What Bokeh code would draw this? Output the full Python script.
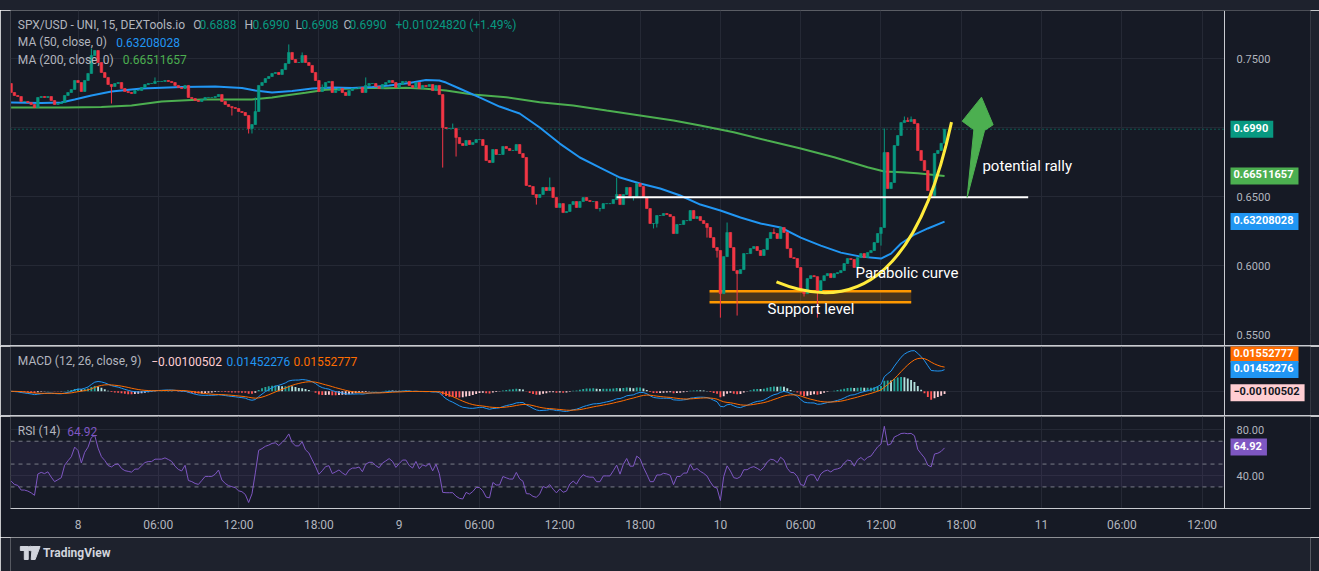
import numpy as np
from bokeh.plotting import figure
from bokeh.layouts import column
from bokeh.models import (ColumnDataSource, FixedTicker, Label, Range1d, Div, Span)
from bokeh.core.properties import value
from bokeh.embed import file_html
from bokeh.resources import INLINE

# ---------------------------------------------------------------- data
# time is counted in hours from day "8" 00:00; one candle = 15 minutes
FIRST_CANDLE_HOUR = -5.0
CANDLE_HOURS = 0.25
FIRST_OPEN = 0.7321

closes = [
    0.7256, 0.7234, 0.7227, 0.7191, 0.7191, 0.7183, 0.7169, 0.7147, 0.7220, 0.7227,
    0.7220, 0.7227, 0.7198, 0.7169, 0.7176, 0.7183, 0.7234, 0.7256, 0.7278, 0.7343,
    0.7328, 0.7263, 0.7343, 0.7394, 0.7524, 0.7560, 0.7473, 0.7401, 0.7365, 0.7314,
    0.7299, 0.7321, 0.7328, 0.7285, 0.7263, 0.7256, 0.7249, 0.7270, 0.7270, 0.7292,
    0.7314, 0.7321, 0.7321, 0.7336, 0.7336, 0.7336, 0.7343, 0.7336, 0.7328, 0.7307,
    0.7292, 0.7285, 0.7307, 0.7220, 0.7212, 0.7198, 0.7191, 0.7205, 0.7220, 0.7220,
    0.7220, 0.7227, 0.7241, 0.7191, 0.7169, 0.7154, 0.7147, 0.7140, 0.7118, 0.7111,
    0.7089, 0.6995, 0.7024, 0.7118, 0.7307, 0.7328, 0.7357, 0.7372, 0.7394, 0.7401,
    0.7386, 0.7422, 0.7466, 0.7546, 0.7495, 0.7473, 0.7473, 0.7524, 0.7473, 0.7452,
    0.7401, 0.7343, 0.7263, 0.7292, 0.7328, 0.7336, 0.7256, 0.7270, 0.7285, 0.7256,
    0.7234, 0.7270, 0.7285, 0.7285, 0.7292, 0.7256, 0.7307, 0.7321, 0.7321, 0.7299,
    0.7285, 0.7314, 0.7328, 0.7343, 0.7328, 0.7292, 0.7314, 0.7336, 0.7336, 0.7307,
    0.7292, 0.7328, 0.7285, 0.7307, 0.7299, 0.7314, 0.7270, 0.7307, 0.7241, 0.7002,
    0.6995, 0.6995, 0.6995, 0.6930, 0.6886, 0.6872, 0.6908, 0.6879, 0.6893, 0.6915,
    0.6915, 0.6872, 0.6763, 0.6749, 0.6843, 0.6807, 0.6807, 0.6865, 0.6850, 0.6836,
    0.6836, 0.6879, 0.6814, 0.6785, 0.6582, 0.6575, 0.6517, 0.6495, 0.6517, 0.6568,
    0.6546, 0.6568, 0.6495, 0.6423, 0.6451, 0.6386, 0.6394, 0.6444, 0.6466, 0.6423,
    0.6466, 0.6495, 0.6473, 0.6466, 0.6466, 0.6415, 0.6415, 0.6451, 0.6451, 0.6451,
    0.6481, 0.6517, 0.6444, 0.6517, 0.6568, 0.6502, 0.6502, 0.6597, 0.6575, 0.6495,
    0.6415, 0.6307, 0.6307, 0.6365, 0.6365, 0.6379, 0.6372, 0.6357, 0.6234, 0.6300,
    0.6300, 0.6328, 0.6328, 0.6401, 0.6343, 0.6357, 0.6328, 0.6307, 0.6278, 0.6205,
    0.6133, 0.6111, 0.5799, 0.6067, 0.6242, 0.6133, 0.5966, 0.5944, 0.5973, 0.6089,
    0.6089, 0.6125, 0.6140, 0.6111, 0.6075, 0.6118, 0.6198, 0.6242, 0.6234, 0.6198,
    0.6278, 0.6242, 0.6125, 0.6060, 0.6053, 0.5988, 0.5821, 0.5799, 0.5908, 0.5929,
    0.5922, 0.5806, 0.5893, 0.5929, 0.5944, 0.5915, 0.5944, 0.5951, 0.5966, 0.6017,
    0.6053, 0.6046, 0.5988, 0.6060, 0.6089, 0.6060, 0.6096, 0.6111, 0.6169, 0.6234,
    0.6278, 0.6821, 0.6560, 0.6604, 0.6872, 0.6944, 0.7038, 0.7053, 0.7046, 0.7060,
    0.7031, 0.6836, 0.6763, 0.6691, 0.6546, 0.6510, 0.6814, 0.6836, 0.6888, 0.6990,
]
# long wicks (candle index -> price)
wick_high = {24: 0.7575, 43: 0.7365, 73: 0.7220, 83: 0.7604, 87: 0.7546, 93: 0.7314,
             106: 0.7365, 132: 0.7031, 161: 0.6640, 181: 0.6640, 214: 0.6314,
             228: 0.6271, 261: 0.6995, 267: 0.7082, 268: 0.7075, 269: 0.7082}
wick_low = {30: 0.7176, 66: 0.7089, 71: 0.6959, 72: 0.6959, 129: 0.6712, 133: 0.6792,
            157: 0.6444, 176: 0.6394, 186: 0.6473, 192: 0.6271, 193: 0.6278,
            208: 0.6205, 211: 0.6060, 212: 0.5625, 217: 0.5640, 237: 0.5778,
            241: 0.5625, 260: 0.6147, 275: 0.6495, 279: 0.6908}

ma50_hours = [-5.0, -2.75, -1.25, -0.25, 1.0, 2.5, 4.75, 7.75, 10.25, 12.25, 13.25,
              14.5, 16.0, 17.5, 19.0, 20.5, 22.0, 23.25, 24.75, 26.0, 27.0, 27.5,
              28.5, 30.0, 31.5, 33.0, 34.5, 36.0, 37.5, 39.0, 40.5, 42.0, 43.5, 45.0,
              46.5, 48.0, 49.5, 51.0, 52.5, 54.0, 55.5, 57.0, 58.5, 60.0, 60.75, 61.5,
              62.5, 63.5, 64.75]
ma50_values = [0.7183, 0.7180, 0.7183, 0.7205, 0.7234, 0.7263, 0.7285, 0.7296, 0.7299,
               0.7288, 0.7270, 0.7256, 0.7267, 0.7285, 0.7292, 0.7288, 0.7296, 0.7307,
               0.7325, 0.7346, 0.7343, 0.7328, 0.7285, 0.7220, 0.7154, 0.7104, 0.7002,
               0.6886, 0.6785, 0.6712, 0.6640, 0.6597, 0.6560, 0.6510, 0.6444, 0.6401,
               0.6350, 0.6307, 0.6278, 0.6205, 0.6147, 0.6096, 0.6067, 0.6053, 0.6089,
               0.6162, 0.6227, 0.6271, 0.6321]
ma200_hours = [-5.0, -1.0, 1.75, 4.0, 6.25, 9.25, 13.0, 14.5, 15.5, 17.0, 18.5, 20.0,
               21.5, 23.0, 24.5, 26.0, 27.5, 29.5, 32.0, 34.5, 37.0, 39.5, 42.0, 44.5,
               46.5, 49.0, 51.5, 54.0, 56.5, 59.0, 60.25, 61.5, 62.75, 64.0, 64.75]
ma200_values = [0.7147, 0.7147, 0.7151, 0.7162, 0.7191, 0.7205, 0.7205, 0.7220, 0.7234,
                0.7254, 0.7275, 0.7283, 0.7290, 0.7287, 0.7290, 0.7283, 0.7270, 0.7241,
                0.7222, 0.7186, 0.7162, 0.7125, 0.7089, 0.7053, 0.7017, 0.6968, 0.6908,
                0.6850, 0.6787, 0.6715, 0.6683, 0.6678, 0.6671, 0.6659, 0.6651]

x_tick_hours = [0, 6, 12, 18, 24, 30, 36, 42, 48, 54, 60, 66, 72, 78, 84]
x_tick_labels = ["8", "06:00", "12:00", "18:00", "9", "06:00", "12:00", "18:00",
                 "10", "06:00", "12:00", "18:00", "11", "06:00", "12:00"]
price_ticks = [0.55, 0.6, 0.65, 0.7, 0.75]
price_tick_labels = ["0.5500", "0.6000", "0.6500", "", "0.7500"]
rsi_ticks = [40, 80]
rsi_tick_labels = ["40.00", "80.00"]
rsi_levels = [30, 50, 70]

last_price = 0.6990
ma50_last = 0.63208028
ma200_last = 0.66511657
macd_last, signal_last, hist_last = 0.01452276, 0.01552777, -0.00100502
rsi_last = 64.92

# drawings on the chart (hours, price)
level_line = dict(x0=40.24, x1=71.0, y=0.6497)
support_box = dict(left=47.19, right=62.26, bottom=0.5736, top=0.5816)
curve = dict(x0=52.19, y0=0.5884, cx=61.83, cy=0.5495, x1=65.27, y1=0.7041)
arrow_hours = [66.44, 67.74, 68.38, 67.51, 66.07, 66.94]
arrow_prices = [0.6497, 0.6981, 0.7022, 0.7222, 0.7048, 0.6986]
note_texts = ["Support level", "Parabolic curve", "potential rally"]
note_hours = [51.52, 58.10, 67.58]
note_prices = [0.5690, 0.5946, 0.6727]

# ---------------------------------------------------------------- style
BG = "#161a25"
OUTER = "#1e222d"
FRAME = "#2a2e39"
GRID = "#252935"
SEP = "#c9cbd1"
TXT = "#b2b5be"
UP = "#089981"
DOWN = "#f23645"
BLUE = "#2196f3"
GREEN = "#4caf50"
ORANGE = "#ff6d00"
PURPLE = "#7e57c2"
FONT = "Roboto"
W = 1319
X_START = -5.044     # left edge of the plotting area
X_AXIS = 85.668      # where the price scale begins
X_END = 92.094       # right edge (price-scale column included)

# ---------------------------------------------------------------- derived
n = len(closes)
hours = [FIRST_CANDLE_HOUR + i * CANDLE_HOURS for i in range(n)]
opens = [FIRST_OPEN] + closes[:-1]
highs = [wick_high.get(i, max(o, c)) for i, (o, c) in enumerate(zip(opens, closes))]
lows = [wick_low.get(i, min(o, c)) for i, (o, c) in enumerate(zip(opens, closes))]
body_top = [max(o, c) for o, c in zip(opens, closes)]
body_bot = [min(o, c) for o, c in zip(opens, closes)]
ccolor = [UP if c >= o else DOWN for o, c in zip(opens, closes)]
candles = ColumnDataSource(dict(x=hours, hi=highs, lo=lows, top=body_top, bot=body_bot,
                                color=ccolor))


def ema(vals, span):
    a = 2.0 / (span + 1)
    out, e = [], vals[0]
    for v in vals:
        e = a * v + (1 - a) * e
        out.append(e)
    return np.array(out)


c_arr = np.array(closes)
macd = ema(closes, 12) - ema(closes, 26)
signal = ema(list(macd), 9)
hist = macd - signal
hcol = []
for i, h in enumerate(hist):
    prev = hist[i - 1] if i else h
    if h >= 0:
        hcol.append("#26a69a" if h > prev else "#b2dfdb")
    else:
        hcol.append("#ff5252" if h < prev else "#ffcdd2")

chg = np.diff(c_arr)
gain = np.where(chg > 0, chg, 0.0)
loss = np.where(chg < 0, -chg, 0.0)
ag, al = gain[:14].mean(), loss[:14].mean()
rsi = []
for i in range(n):
    if i > 0:
        ag = (ag * 13 + gain[i - 1]) / 14
        al = (al * 13 + loss[i - 1]) / 14
    rsi.append(100.0 if al == 0 else 100 - 100 / (1 + ag / al))


def base_fig(height, y0, y1, ticks, labels, bottom=0, xaxis=False, border=OUTER):
    f = figure(width=W, height=height, x_range=Range1d(X_START, X_END),
               y_range=Range1d(y0, y1), toolbar_location=None, output_backend="svg",
               y_axis_location="right", x_axis_location="below" if xaxis else None,
               min_border_left=10, min_border_right=9, min_border_top=0,
               min_border_bottom=bottom, background_fill_color=BG,
               border_fill_color=border, outline_line_color=None)
    f.xgrid.ticker = FixedTicker(ticks=x_tick_hours)
    f.ygrid.ticker = FixedTicker(ticks=ticks)
    f.grid.grid_line_color = GRID
    f.grid.grid_line_width = 1
    ax = f.yaxis[0]
    ax.ticker = FixedTicker(ticks=ticks)
    ax.major_label_overrides = dict(zip(ticks, labels))
    ax.axis_line_color = None
    ax.major_tick_line_color = None
    ax.minor_tick_line_color = None
    ax.major_label_text_color = TXT
    ax.major_label_text_font = FONT
    ax.major_label_text_font_size = "11px"
    ax.major_label_standoff = -80
    # price-scale column: plain background over the grid, and its border line
    f.quad(left=[X_AXIS], right=[X_END], bottom=[y0], top=[y1], fill_color=BG,
           line_color=None)
    f.add_layout(Span(location=X_AXIS, dimension="height", line_color=SEP,
                      line_width=1))
    f.add_layout(Span(location=X_START, dimension="height", line_color=FRAME,
                      line_width=1))
    f.add_layout(Span(location=X_END, dimension="height", line_color=FRAME,
                      line_width=1))
    return f


def tag(fig, y, text, bg, fg="#ffffff", dy=0):
    fig.add_layout(Label(x=X_AXIS, y=y, text=text, x_offset=6, y_offset=dy,
                         text_align="left", text_baseline="middle", text_color=fg,
                         text_font=FONT, text_font_size="11px", text_font_style="bold",
                         background_fill_color=bg, padding=(3, 5, 3, 6)))


def legend(fig, items, y):
    for x, text, color in items:
        fig.add_layout(Label(x=x, y=y, x_units="screen", y_units="screen", text=text,
                             text_color=color, text_font=FONT, text_font_size="12px",
                             text_baseline="middle", text_align="left"))


# ---------------------------------------------------------------- price pane
p = base_fig(335, 0.54232, 0.78499, price_ticks, price_tick_labels)
p.add_layout(Span(location=0.78499, dimension="width", line_color=FRAME, line_width=1))

p.segment(x0=[X_START], x1=[X_AXIS], y0=[last_price], y1=[last_price], line_color=UP,
          line_dash="1 3", line_width=1)
p.quad(left=[support_box["left"]], right=[support_box["right"]],
       bottom=[support_box["bottom"]], top=[support_box["top"]],
       fill_color="#ff9800", fill_alpha=0.22, line_color=None)
p.segment(x0=[support_box["left"]] * 2, x1=[support_box["right"]] * 2,
          y0=[support_box["bottom"], support_box["top"]],
          y1=[support_box["bottom"], support_box["top"]], line_color="#ff9800",
          line_width=2.5)
p.line(ma200_hours, ma200_values, line_color=GREEN, line_width=2)
p.line(ma50_hours, ma50_values, line_color=BLUE, line_width=2)
p.segment(x0="x", x1="x", y0="lo", y1="hi", color="color", line_width=1, source=candles)
p.vbar(x="x", width=0.19, top="top", bottom="bot", fill_color="color",
       line_color="color", line_width=0.6, source=candles)
p.segment(x0=[level_line["x0"]], x1=[level_line["x1"]], y0=[level_line["y"]],
          y1=[level_line["y"]], line_color="#ffffff", line_width=2)
p.quadratic(x0=[curve["x0"]], y0=[curve["y0"]], cx=[curve["cx"]], cy=[curve["cy"]],
            x1=[curve["x1"]], y1=[curve["y1"]], line_color="#ffeb3b", line_width=3)
p.patch(arrow_hours, arrow_prices, fill_color="#4caf50", line_color="#4caf50")
p.text(x=note_hours, y=note_prices, text=note_texts, text_color="#ffffff",
       text_font=value(FONT), text_font_size="15px", text_baseline="middle",
       text_align="left")

tag(p, last_price, "0.6990", UP)
tag(p, ma200_last, "0.66511657", GREEN)
tag(p, ma50_last, "0.63208028", BLUE)

legend(p, [(7.3, "SPX/USD - UNI, 15, DEXTools.io", TXT), (182.7, "O", TXT),
           (189, "0.6888", UP), (234, "H", TXT), (242, "0.6990", UP), (285, "L", TXT),
           (291, "0.6908", UP), (333, "C", TXT), (339, "0.6990", UP),
           (385, "+0.01024820 (+1.49%)", UP)], 321)
legend(p, [(7.3, "MA (50, close, 0)", TXT), (105.7, "0.63208028", BLUE)], 303.3)
legend(p, [(7.3, "MA (200, close, 0)", TXT), (112.3, "0.66511657", GREEN)], 286)

# ---------------------------------------------------------------- MACD pane
m = base_fig(69, -0.016133, 0.029867, [0.0], [""])
m.vbar(x=hours, width=0.14, top=list(hist), bottom=0, fill_color=hcol, line_color=None)
m.line(hours, list(macd), line_color=BLUE, line_width=1)
m.line(hours, list(signal), line_color=ORANGE, line_width=1)
tag(m, signal_last, "0.01552777", ORANGE, dy=14)
tag(m, macd_last, "0.01452276", BLUE)
tag(m, hist_last, "\u22120.00100502", "#ffcdd2", fg="#131722")
legend(m, [(7.3, "MACD (12, 26, close, 9)", TXT), (140.7, "\u22120.00100502", "#ffcdd2"),
           (216, "0.01452276", BLUE), (283, "0.01552777", ORANGE)], 54.3)

# ---------------------------------------------------------------- RSI pane
r = base_fig(121, 11.12, 91.64, rsi_ticks, rsi_tick_labels, bottom=29, xaxis=True,
             border=BG)
xa = r.xaxis[0]
xa.ticker = FixedTicker(ticks=x_tick_hours)
xa.major_label_overrides = dict(zip(x_tick_hours, x_tick_labels))
xa.axis_line_color = SEP
xa.major_tick_line_color = None
xa.minor_tick_line_color = None
xa.major_label_text_color = TXT
xa.major_label_text_font = FONT
xa.major_label_text_font_size = "12px"
xa.major_label_standoff = 3
r.quad(left=[X_START], right=[X_AXIS], bottom=[rsi_levels[0]], top=[rsi_levels[2]],
       fill_color=PURPLE, fill_alpha=0.1, line_color=None)
r.segment(x0=[X_START] * 3, x1=[X_AXIS] * 3, y0=rsi_levels, y1=rsi_levels,
          line_color="#787b86", line_dash="4 4", line_width=1)
r.line(hours, rsi, line_color=PURPLE, line_width=1)
tag(r, rsi_last, "64.92", PURPLE)
legend(r, [(7.3, "RSI (14)", TXT), (56.7, "64.92", PURPLE)], 77.3)

# ---------------------------------------------------------------- footer
ft = figure(width=W, height=34, x_range=Range1d(0, W), y_range=Range1d(0, 34),
            toolbar_location=None, output_backend="svg", x_axis_location=None,
            y_axis_location=None, min_border=0, background_fill_color=OUTER,
            border_fill_color=OUTER, outline_line_color=None)
ft.grid.visible = False
ft.quad(left=[10, 14], right=[18, 18], bottom=[21, 12], top=[25, 25], color="#d1d4dc")
ft.scatter(x=[20.5], y=[23], size=4.5, color="#d1d4dc")
ft.patch([22, 30, 25, 21], [25, 25, 12, 12], color="#d1d4dc")
ft.text(x=[33], y=[18.5], text=["TradingView"], text_color="#d1d4dc",
        text_font=value(FONT), text_font_size="12px", text_font_style="bold",
        text_baseline="middle")


def strip(h, color):
    return Div(width=W, height=h, margin=(0, 0, 0, 0),
               styles={"background-color": color})


layout = column(strip(10, OUTER), p, strip(1, SEP), m, strip(1, SEP), r, ft, spacing=0)
open("out.html", "w").write(file_html(layout, INLINE))
